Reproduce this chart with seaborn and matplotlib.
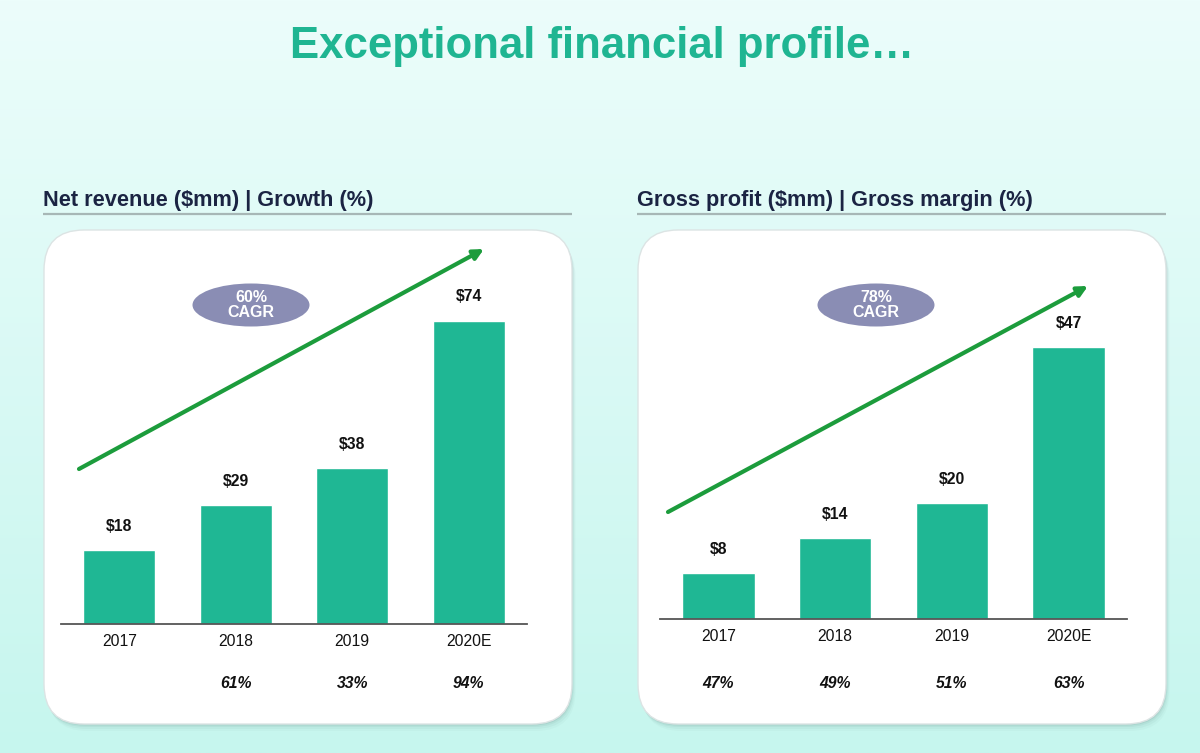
import numpy as np
import matplotlib
matplotlib.use("Agg")
import matplotlib.pyplot as plt
import matplotlib.transforms as mtransforms
from matplotlib.patches import FancyBboxPatch, Ellipse
import seaborn as sns
import pandas as pd

# ---- data ----
years = ["2017", "2018", "2019", "2020E"]
revenue = [18, 29, 38, 74]
revenue_growth = ["", "61%", "33%", "94%"]
gross_profit = [8, 14, 20, 47]
gross_margin = ["47%", "49%", "51%", "63%"]
title = "Exceptional financial profile\u2026"
left_header = "Net revenue ($mm) | Growth (%)"
right_header = "Gross profit ($mm) | Gross margin (%)"
left_cagr = "60%\nCAGR"
right_cagr = "78%\nCAGR"

sns.set_style("white")
plt.rcParams["font.family"] = ["Liberation Sans", "DejaVu Sans"]

W, H = 1200, 753
fig = plt.figure(figsize=(W / 100, H / 100), dpi=100)

TEAL = "#1fb794"
TITLE_C = "#1fb592"
NAVY = "#1b2443"
GREEN = "#1c9c3c"
OVAL = "#8a8db4"

# ---- background (pixel coordinate overlay) ----
bg = fig.add_axes([0, 0, 1, 1], zorder=0)
bg.set_xlim(0, W)
bg.set_ylim(H, 0)
bg.axis("off")
top_c = np.array([236, 253, 251]) / 255
bot_c = np.array([198, 246, 238]) / 255
t = np.linspace(0, 1, 256)[:, None]
grad = (top_c[None, :] * (1 - t) + bot_c[None, :] * t)[:, None, :]
bg.imshow(grad, extent=[0, W, H, 0], aspect="auto", zorder=0)

bg.text(602, 46, title, ha="center", va="center", fontsize=31.5,
        fontweight="bold", color=TITLE_C, zorder=5)


def panel_frame(x0, x1, header):
    y0, y1 = 230, 724
    bg.text(x0 - 1, 200, header, ha="left", va="center", fontsize=15.7,
            fontweight="bold", color=NAVY, zorder=5)
    bg.plot([x0 - 1, x1], [214, 214], color="#a7b7b6", lw=1.6, zorder=5,
            solid_capstyle="butt")
    for k, a in [(7, 0.04), (5, 0.06), (3, 0.08), (1.5, 0.12)]:
        sh = FancyBboxPatch((x0 + k * 0.5, y0 + k), x1 - x0, y1 - y0,
                            boxstyle="round,pad=0,rounding_size=40",
                            facecolor="#5a7a78", edgecolor="none", alpha=a,
                            zorder=2)
        bg.add_patch(sh)
    box = FancyBboxPatch((x0, y0), x1 - x0, y1 - y0,
                         boxstyle="round,pad=0,rounding_size=40",
                         facecolor="white", edgecolor="#dce4e4", lw=1,
                         zorder=3)
    bg.add_patch(box)


panel_frame(44, 572, left_header)
panel_frame(638, 1166, right_header)

# CAGR arrows and ovals
bg.annotate("", xy=(484, 249), xytext=(79, 469),
            arrowprops=dict(arrowstyle="-|>", color=GREEN, lw=3,
                            mutation_scale=15, shrinkA=0, shrinkB=0),
            zorder=6)
bg.annotate("", xy=(1088, 286), xytext=(668, 512),
            arrowprops=dict(arrowstyle="-|>", color=GREEN, lw=3,
                            mutation_scale=15, shrinkA=0, shrinkB=0),
            zorder=6)
for cx, txt in [(251, left_cagr), (876, right_cagr)]:
    bg.add_patch(Ellipse((cx, 305), 117, 43, facecolor=OVAL,
                         edgecolor="none", zorder=6))
    bg.text(cx, 305, txt, ha="center", va="center", color="white",
            fontsize=11.5, fontweight="bold", linespacing=1.05, zorder=7)


def bar_panel(rect, top, values, sublabels, sub_y):
    ax = fig.add_axes(rect, zorder=2)
    ax.patch.set_alpha(0)
    df = pd.DataFrame({"year": years, "value": values})
    sns.barplot(data=df, x="year", y="value", color=TEAL, saturation=1,
                width=0.62, ax=ax)
    ax.set_xlim(-0.5, len(years) - 0.5)
    ax.set_ylim(0, top)
    ax.set_xlabel("")
    ax.set_ylabel("")
    ax.set_yticks([])
    for s in ["top", "right", "left"]:
        ax.spines[s].set_visible(False)
    ax.spines["bottom"].set_color("#555555")
    ax.spines["bottom"].set_linewidth(1.3)
    ax.tick_params(axis="x", length=0, pad=7, labelsize=11.3,
                   labelcolor="#111111")
    for i, v in enumerate(values):
        ax.annotate(f"${v}", xy=(i, v), xytext=(0, 17),
                    textcoords="offset points", ha="center", va="center",
                    fontsize=11.3, fontweight="bold", color="#111111")
    tr = mtransforms.blended_transform_factory(ax.transData, fig.transFigure)
    for i, s in enumerate(sublabels):
        if s:
            ax.text(i, sub_y, s, transform=tr, ha="center", va="center",
                    fontsize=11.3, fontweight="bold", fontstyle="italic",
                    color="#111111")
    return ax


bar_panel([61 / W, (H - 624) / H, 466 / W, (624 - 240) / H], 384 / 4.1,
          revenue, revenue_growth, 1 - 684 / H)
bar_panel([660 / W, (H - 619) / H, 467 / W, (619 - 240) / H], 379 / 5.78,
          gross_profit, gross_margin, 1 - 684 / H)

fig.savefig("out.png", dpi=100)
